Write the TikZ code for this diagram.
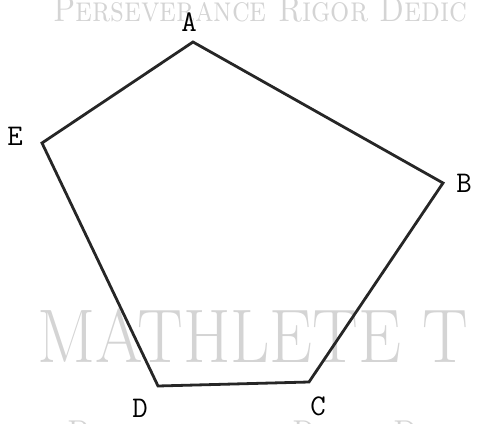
\documentclass[tikz,border=0pt]{standalone}
\usepackage{xcolor}
\definecolor{markgray}{RGB}{212,212,212}
\begin{document}
\begin{tikzpicture}[x=1pt, y=1pt,
    vertex label/.style={font=\ttfamily\fontsize{30}{30}\selectfont, inner sep=0pt},
    side/.style={line width=2.8pt, line join=miter, color=black!85},
    watermark/.style={text=markgray, inner sep=0pt, anchor=base west}
]
\useasboundingbox (0,0) rectangle (478,423);
\clip (0,0) rectangle (478,423);
% background watermark
\node[watermark, font=\fontsize{36}{36}\selectfont, xscale=0.84] (topmark) at (53,401) {\textsc{Perseverance Rigor Dedic}};
\node[watermark, font=\fontsize{76}{76}\selectfont, xscale=0.9] (bigmark) at (37,61) {MATHLETE T};
\node[watermark, font=\fontsize{36}{36}\selectfont, xscale=0.84] (lowmark) at (67,-22) {\textsc{Perseverance Rigor Dedic}};
% pentagon
\coordinate (A) at (193,381);
\coordinate (B) at (443,240);
\coordinate (C) at (309,41);
\coordinate (D) at (158,37);
\coordinate (E) at (42,280);
\draw[side] (A) -- (B) -- (C) -- (D) -- (E) -- cycle;
% labels
\node[vertex label] (labA) at (189,401) {A};
\node[vertex label] (labB) at (464,240) {B};
\node[vertex label] (labC) at (318,17) {C};
\node[vertex label] (labD) at (140,15) {D};
\node[vertex label] (labE) at (15,287) {E};
\end{tikzpicture}
\end{document}
